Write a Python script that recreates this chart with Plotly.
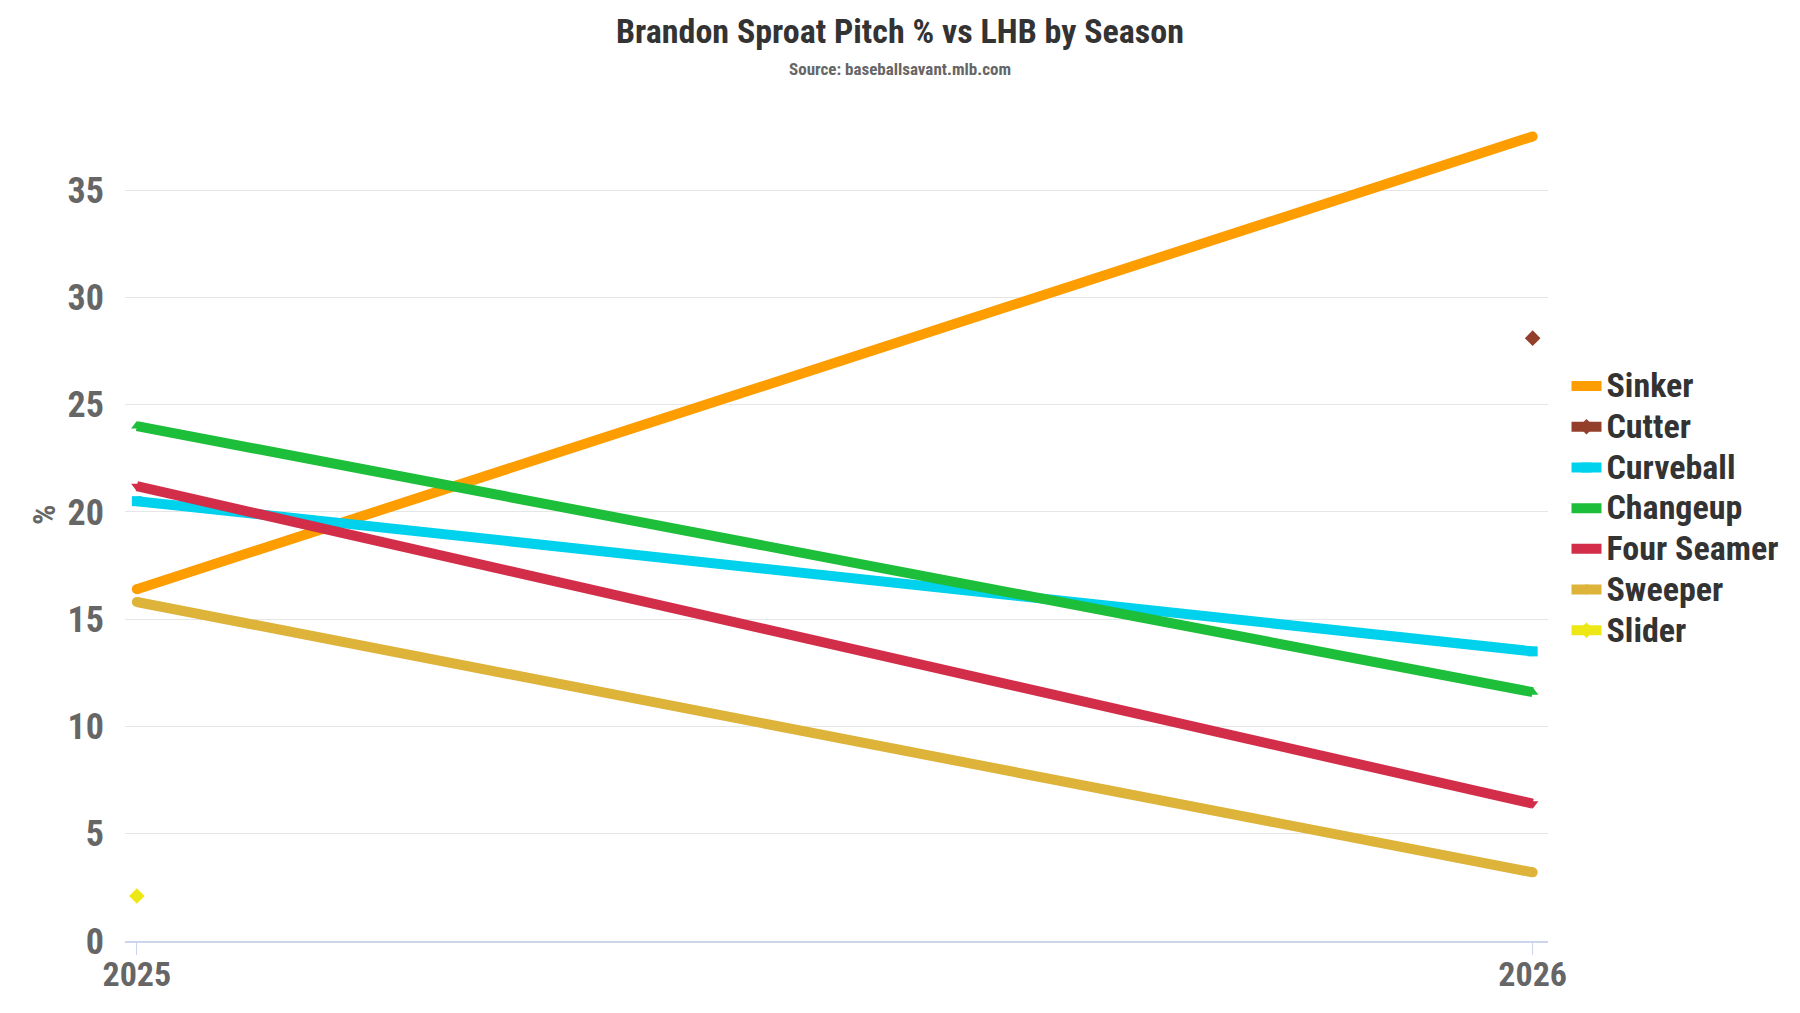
import plotly.graph_objects as go

seasons = [2025, 2026]
pitch_names = ["Sinker", "Cutter", "Curveball", "Changeup", "Four Seamer", "Sweeper", "Slider"]
sinker = [16.4, 37.5]
cutter = [None, 28.1]
curveball = [20.5, 13.5]
changeup = [24.0, 11.6]
four_seamer = [21.2, 6.4]
sweeper = [15.8, 3.2]
slider = [2.1, None]
y_ticks = [0, 5, 10, 15, 20, 25, 30, 35]

series_values = [sinker, cutter, curveball, changeup, four_seamer, sweeper, slider]
colors = ["#FE9D00", "#933F2C", "#00D1ED", "#1DBE3A", "#D22D49", "#DDB33A", "#EEE716"]
symbols = ["circle", "diamond", "square", "triangle-up", "triangle-down", "circle", "diamond"]

FONT = "Roboto Condensed, Liberation Sans Narrow, DejaVu Sans Condensed, Roboto, sans-serif"

W, H = 1800, 1013
ML, MR, MT, MB = 117, 260, 107, 80
plot_w = W - ML - MR
plot_h = H - MT - MB

fig = go.Figure()
for name, vals, col, sym in zip(pitch_names, series_values, colors, symbols):
    fig.add_trace(go.Scatter(
        x=seasons, y=vals,
        name="<span style='font-size:34px'>" + name + "</span>",
        mode="lines+markers",
        line=dict(color=col, width=10),
        marker=dict(color=col, symbol=sym, size=12 if sym == "diamond" else 10),
        connectgaps=False,
    ))

cx = (892 - ML) / plot_w
fig.update_layout(
    width=W, height=H,
    paper_bgcolor="white", plot_bgcolor="white",
    margin=dict(l=ML, r=MR, t=MT, b=MB),
    font=dict(family=FONT, color="#666666"),
    legend=dict(
        x=1.013, xanchor="left", y=0.524, yanchor="middle",
        font=dict(family=FONT, size=29, color="#333333", weight="bold"),
        tracegroupgap=0, itemwidth=30, bgcolor="rgba(0,0,0,0)",
    ),
    showlegend=True,
    annotations=[
        dict(text="<b>Brandon Sproat Pitch % vs LHB by Season</b>", xref="paper", yref="paper",
             x=cx, y=1, yshift=84, xanchor="center", yanchor="middle", showarrow=False,
             font=dict(family=FONT, size=34, color="#333333")),
        dict(text="<b>Source: baseballsavant.mlb.com</b>", xref="paper", yref="paper",
             x=cx, y=1, yshift=46, xanchor="center", yanchor="middle", showarrow=False,
             font=dict(family=FONT, size=17, color="#666666")),
        dict(text="<b>%</b>", xref="paper", yref="paper",
             x=0, xshift=36 - ML, y=(H - MB - 507) / plot_h, xanchor="center", yanchor="middle",
             textangle=-90, showarrow=False,
             font=dict(family=FONT, size=32, color="#666666")),
    ],
)

fig.update_xaxes(
    range=[2024.9915, 2026.011],
    tickmode="array", tickvals=seasons, ticktext=[str(s) for s in seasons],
    showgrid=False, zeroline=False,
    showline=True, linecolor="#ccd6eb", linewidth=2,
    ticks="outside", ticklen=12, tickcolor="#ccd6eb", tickwidth=1,
    ticklabelstandoff=-10,
    tickfont=dict(family=FONT, size=34, color="#666666", weight="bold"),
)
fig.update_yaxes(
    range=[0, 38.5],
    tickmode="array", tickvals=y_ticks,
    showgrid=True, gridcolor="#e6e6e6", gridwidth=1, zeroline=False,
    showline=False, ticks="", ticklabelstandoff=20,
    tickfont=dict(family=FONT, size=36, color="#666666", weight="bold"),
)

fig.write_html("out.html")
